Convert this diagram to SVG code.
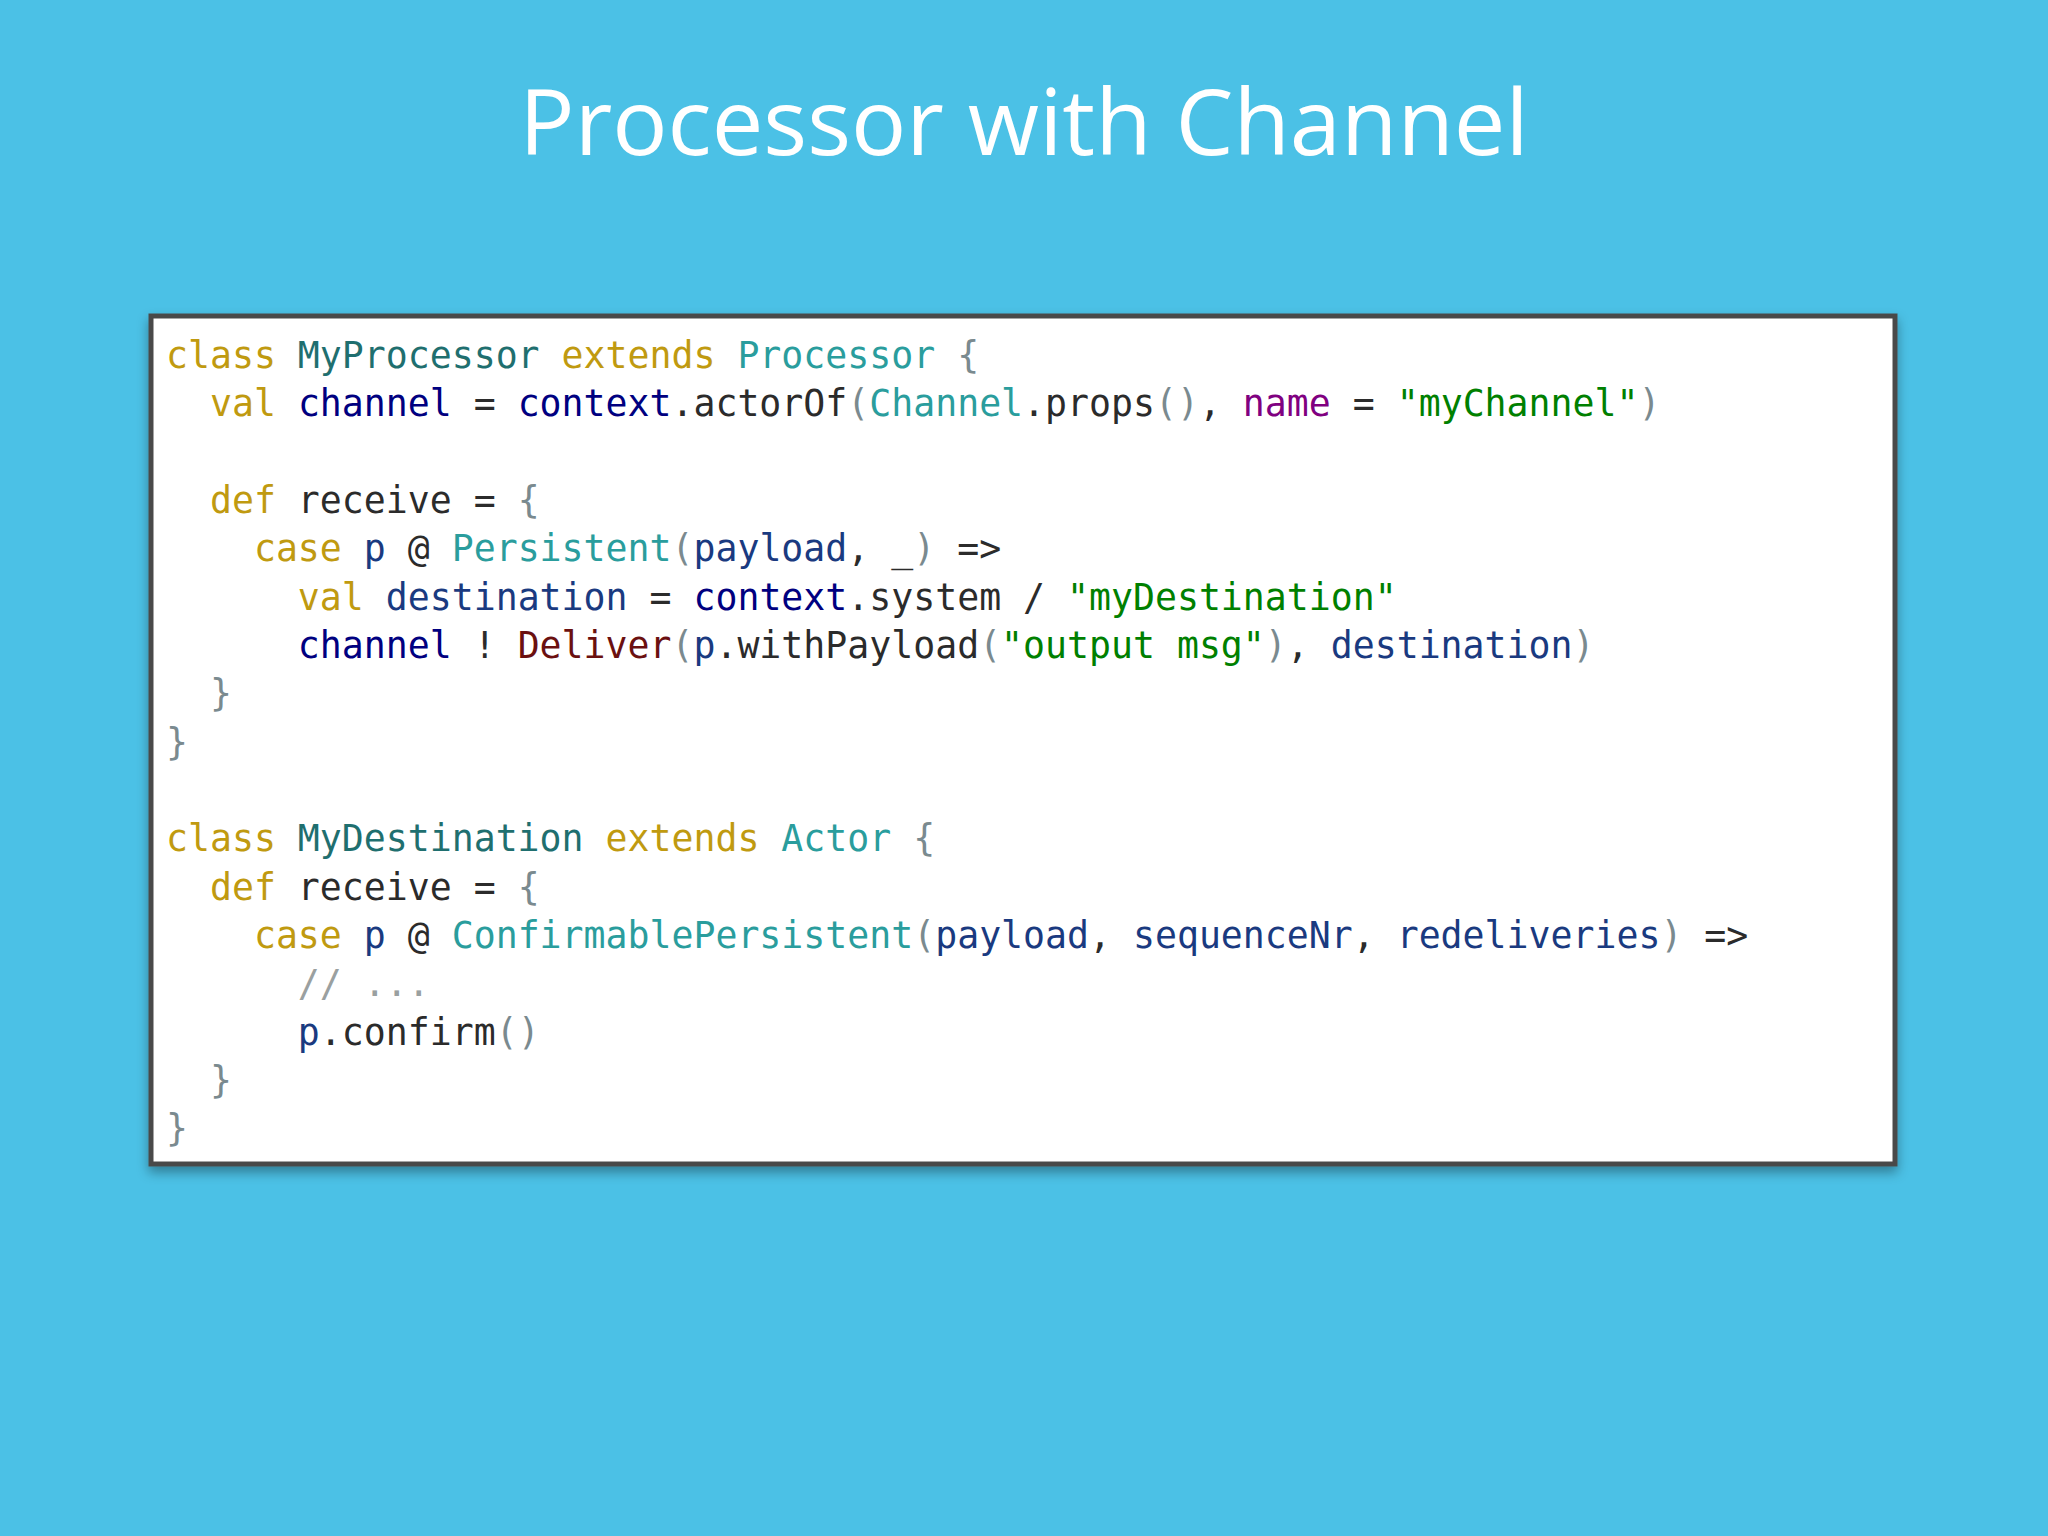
<svg xmlns="http://www.w3.org/2000/svg" width="2048" height="1536" viewBox="0 0 2048 1536">
<style>
.t{font-family:"Open Sans","Noto Sans",sans-serif;font-size:92px;fill:#fff}
.c{font-family:"DejaVu Sans Mono","Liberation Mono",monospace;font-size:36.5px;fill:#2b2b2b;white-space:pre}
.k{fill:#c09a10}.n{fill:#1f6f6f}.ty{fill:#2a9d9d}.v{fill:#000080}.p{fill:#800080}.s{fill:#008000}.d{fill:#6b1010}.g{fill:#7a8a8f}.m{fill:#9aa0a0}.b{fill:#1a3a80}
</style>
<defs><filter id="sh" x="-5%" y="-5%" width="110%" height="115%"><feDropShadow dx="0" dy="6" stdDeviation="6" flood-color="#000" flood-opacity="0.35"/></filter></defs>
<rect width="2048" height="1536" fill="#4bc1e6"/>
<text class="t" x="1024" y="155" text-anchor="middle">Processor with Channel</text>
<g id="codebox">
<rect x="151" y="316" width="1744" height="848" fill="#fff" stroke="#4a4a4a" stroke-width="5" filter="url(#sh)"/>
<text class="c" xml:space="preserve">
<tspan x="166" y="368"><tspan class="k">class</tspan> <tspan class="n">MyProcessor</tspan> <tspan class="k">extends</tspan> <tspan class="ty">Processor</tspan> <tspan class="g">{</tspan></tspan>
<tspan x="166" y="416">  <tspan class="k">val</tspan> <tspan class="v">channel</tspan> = <tspan class="v">context</tspan>.actorOf<tspan class="g">(</tspan><tspan class="ty">Channel</tspan>.props<tspan class="g">()</tspan>, <tspan class="p">name</tspan> = <tspan class="s">"myChannel"</tspan><tspan class="g">)</tspan></tspan>
<tspan x="166" y="513">  <tspan class="k">def</tspan> receive = <tspan class="g">{</tspan></tspan>
<tspan x="166" y="561">    <tspan class="k">case</tspan> <tspan class="b">p</tspan> @ <tspan class="ty">Persistent</tspan><tspan class="g">(</tspan><tspan class="b">payload</tspan>, _<tspan class="g">)</tspan> =&gt;</tspan>
<tspan x="166" y="610">      <tspan class="k">val</tspan> <tspan class="b">destination</tspan> = <tspan class="v">context</tspan>.system / <tspan class="s">"myDestination"</tspan></tspan>
<tspan x="166" y="658">      <tspan class="v">channel</tspan> ! <tspan class="d">Deliver</tspan><tspan class="g">(</tspan><tspan class="b">p</tspan>.withPayload<tspan class="g">(</tspan><tspan class="s">"output msg"</tspan><tspan class="g">)</tspan>, <tspan class="b">destination</tspan><tspan class="g">)</tspan></tspan>
<tspan x="166" y="706">  <tspan class="g">}</tspan></tspan>
<tspan x="166" y="755"><tspan class="g">}</tspan></tspan>
<tspan x="166" y="851"><tspan class="k">class</tspan> <tspan class="n">MyDestination</tspan> <tspan class="k">extends</tspan> <tspan class="ty">Actor</tspan> <tspan class="g">{</tspan></tspan>
<tspan x="166" y="900">  <tspan class="k">def</tspan> receive = <tspan class="g">{</tspan></tspan>
<tspan x="166" y="948">    <tspan class="k">case</tspan> <tspan class="b">p</tspan> @ <tspan class="ty">ConfirmablePersistent</tspan><tspan class="g">(</tspan><tspan class="b">payload</tspan>, <tspan class="b">sequenceNr</tspan>, <tspan class="b">redeliveries</tspan><tspan class="g">)</tspan> =&gt;</tspan>
<tspan x="166" y="996">      <tspan class="m">// ...</tspan></tspan>
<tspan x="166" y="1045">      <tspan class="b">p</tspan>.confirm<tspan class="g">()</tspan></tspan>
<tspan x="166" y="1093">  <tspan class="g">}</tspan></tspan>
<tspan x="166" y="1141"><tspan class="g">}</tspan></tspan>
</text>
</g>
</svg>
